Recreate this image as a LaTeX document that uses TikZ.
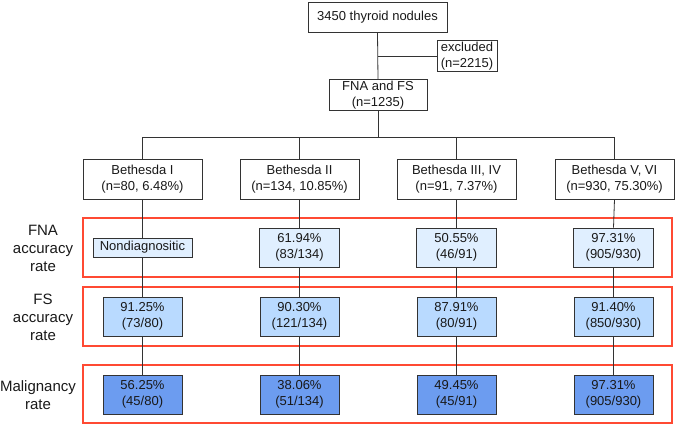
\documentclass[tikz,border=0pt]{standalone}
\usepackage{fontspec}
\setmainfont{Liberation Sans}
\usetikzlibrary{positioning}

\definecolor{fnafill}{HTML}{E0EFFF}
\definecolor{fsfill}{HTML}{B9DAFF}
\definecolor{malfill}{HTML}{6C9CF0}
\definecolor{framered}{HTML}{FF4A33}
\definecolor{edgegray}{HTML}{333333}

\tikzset{
  flowbox/.style={draw=edgegray,thick,align=center,inner sep=1pt,
    font=\fontsize{13}{16.5}\selectfont,text=black!90},
  fnabox/.style={flowbox,fill=fnafill,minimum width=80pt,minimum height=39pt},
  fsbox/.style={flowbox,fill=fsfill,minimum width=79pt,minimum height=39pt},
  malbox/.style={flowbox,fill=malfill,minimum width=79pt,minimum height=39pt},
  rowframe/.style={draw=framered,line width=1.6pt},
  rowlabel/.style={align=center,font=\fontsize{15}{18}\selectfont,text=black!90},
  link/.style={draw=edgegray,thick}
}

\begin{document}
\begin{tikzpicture}[x=1pt,y=-1pt]
    \useasboundingbox (0,0) rectangle (675,427);
    % Top of the flow
    \node[flowbox,minimum width=139pt,minimum height=30pt] (nodules) at (377.5,17) {3450 thyroid nodules};
    \node[flowbox,minimum width=60pt,minimum height=30pt] (excluded) at (467,56) {excluded\\(n=2215)};
    \node[flowbox,minimum width=98pt,minimum height=30pt] (fnafs) at (378,95) {FNA and FS\\(n=1235)};
    \draw[link] (nodules.south) -- (fnafs.north);
    \draw[link] (excluded.west) -- (excluded.west -| nodules.south);
    % Row frames
    \draw[rowframe] (82.7,218) rectangle (672,277);
    \draw[rowframe] (82.7,287) rectangle (672,346);
    \draw[rowframe] (82.7,365) rectangle (672,423);
    % Row labels
    \node[rowlabel] (lfna) at (43,248) {FNA\\accuracy\\rate};
    \node[rowlabel] (lfs) at (43,317) {FS\\accuracy\\rate};
    \node[rowlabel] (lmal) at (38,395.5) {Malignancy\\rate};
    % Bethesda columns
    \coordinate (bus) at (378,137);
    \draw[link] (fnafs.south) -- (bus);
    \foreach \i/\x/\name/\n in {1/142.5/I/{n=80, 6.48\%},
                               2/299.5/II/{n=134, 10.85\%},
                               3/456.5/{III, IV}/{n=91, 7.37\%},
                               4/614.5/{V, VI}/{n=930, 75.30\%}} {
      \node[flowbox,fill=white,minimum width=119pt,minimum height=40pt] (beth\i) at (\x,179) {Bethesda \name\\(\n)};
      \draw[link] (bus) -| (beth\i.north);
    }
    % Rates
    \node[fnabox,minimum width=99pt,minimum height=19pt] (fna1) at (142.5,247.5) {Nondiagnositic};
    \node[fnabox] (fna2) at (299.5,247.5) {61.94\%\\(83/134)};
    \node[fnabox] (fna3) at (456.5,247.5) {50.55\%\\(46/91)};
    \node[fnabox] (fna4) at (613.5,247.5) {97.31\%\\(905/930)};
    \node[fsbox] (fs1) at (142.5,316.5) {91.25\%\\(73/80)};
    \node[fsbox] (fs2) at (299.5,316.5) {90.30\%\\(121/134)};
    \node[fsbox] (fs3) at (456.5,316.5) {87.91\%\\(80/91)};
    \node[fsbox] (fs4) at (613.5,316.5) {91.40\%\\(850/930)};
    \node[malbox] (mal1) at (142.5,394.5) {56.25\%\\(45/80)};
    \node[malbox] (mal2) at (299.5,394.5) {38.06\%\\(51/134)};
    \node[malbox] (mal3) at (456.5,394.5) {49.45\%\\(45/91)};
    \node[malbox] (mal4) at (613.5,394.5) {97.31\%\\(905/930)};
    \foreach \i in {1,...,4} {
      \draw[link] (beth\i.south) -- (fna\i.north);
      \draw[link] (fna\i.south) -- (fs\i.north);
      \draw[link] (fs\i.south) -- (mal\i.north);
    }
\end{tikzpicture}
\end{document}
